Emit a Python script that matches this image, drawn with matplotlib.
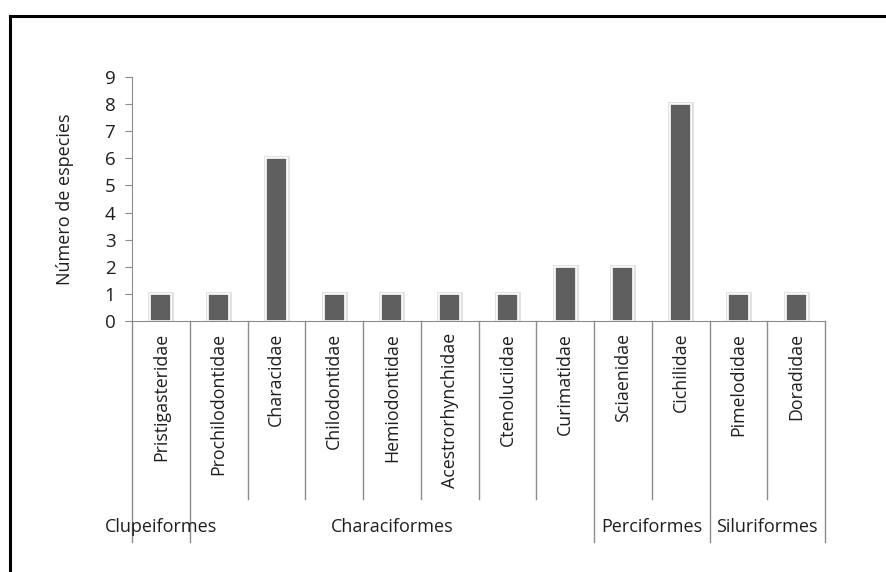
import matplotlib
matplotlib.use("Agg")
import matplotlib.pyplot as plt
import matplotlib.patheffects as pe
from matplotlib.lines import Line2D

families = ["Pristigasteridae", "Prochilodontidae", "Characidae", "Chilodontidae",
            "Hemiodontidae", "Acestrorhynchidae", "Ctenoluciidae", "Curimatidae",
            "Sciaenidae", "Cichilidae", "Pimelodidae", "Doradidae"]
especies = [1, 1, 6, 1, 1, 1, 1, 2, 2, 8, 1, 1]

# orders: (name, first family index, last family index)
ordenes = ["Clupeiformes", "Characiformes", "Perciformes", "Siluriformes"]
orden_inicio = [0, 1, 8, 10]
orden_fin = [0, 7, 9, 11]

plt.rcParams['font.family'] = ['Open Sans', 'DejaVu Sans']
W, H = 886, 572
fig = plt.figure(figsize=(W / 100, H / 100), dpi=100)
ax = fig.add_axes([132 / W, 1 - 321 / H, (825 - 132) / W, (321 - 77) / H])

gris = '#8c8c8c'
texto = '#1e1e1e'
x = list(range(len(families)))
ax.bar(x, especies, width=0.36, color='#5f5f5f', edgecolor='white', linewidth=1.2,
       path_effects=[pe.Stroke(linewidth=3.5, foreground='#e0e0e0'), pe.Normal()])

ax.set_xlim(-0.5, len(families) - 0.5)
ax.set_ylim(0, 9)
ax.set_yticks(range(0, 10))
ax.tick_params(axis='y', length=5, color=gris, labelsize=13.5, labelcolor=texto, pad=7)
ax.set_xticks([])
for s in ['top', 'right']:
    ax.spines[s].set_visible(False)
ax.spines['left'].set_color(gris)
ax.spines['bottom'].set_color(gris)
ax.set_ylabel("Número de especies", fontsize=13, color=texto, labelpad=22)

# category labels and separators below the axis
tr = ax.get_xaxis_transform()
y_corto = -(499 - 321) / (321 - 77)
y_largo = -(542 - 321) / (321 - 77)
y_tick = -(333 - 321) / (321 - 77)
y_orden = -(527 - 321) / (321 - 77)

limites_largos = set([orden_inicio[0] - 0.5] + [f + 0.5 for f in orden_fin])
for i in range(len(families) + 1):
    b = i - 0.5
    y_end = y_largo if b in limites_largos else y_corto
    ax.add_line(Line2D([b, b], [0, y_end], transform=tr, color=gris, lw=1, clip_on=False))

for i, nombre in enumerate(families):
    ax.text(i, y_tick, nombre, transform=tr, rotation=90, ha='center', va='top',
            fontsize=12.8, color=texto)

for nombre, a, b in zip(ordenes, orden_inicio, orden_fin):
    ax.text((a + b) / 2, y_orden, nombre, transform=tr, ha='center', va='center',
            fontsize=13, color=texto)

# outer frame (top and left edges)
fig.add_artist(Line2D([10 / W, 1], [1 - 16 / H, 1 - 16 / H], transform=fig.transFigure,
                      color='black', lw=2.2))
fig.add_artist(Line2D([10 / W, 10 / W], [0, 1 - 16 / H], transform=fig.transFigure,
                      color='black', lw=2.2))

fig.savefig("out.png", dpi=100)
